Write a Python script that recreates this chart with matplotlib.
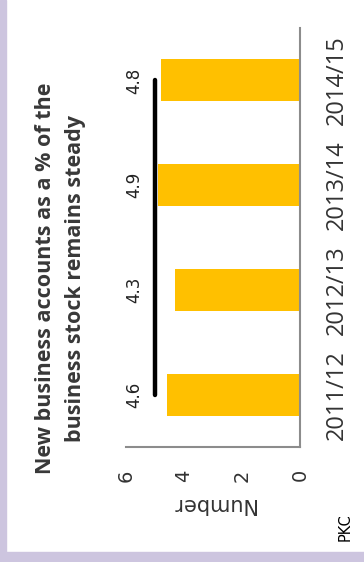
import matplotlib
matplotlib.use('Agg')
import matplotlib.pyplot as plt
from matplotlib.patches import Rectangle

# new business accounts as % of business stock
years = ['2011/12', '2012/13', '2013/14', '2014/15']
pct_values = [4.6, 4.3, 4.9, 4.8]
steady_level = [5.0, 5.0, 5.0, 5.0]
label_level = 5.7
value_ticks = [0, 2, 4, 6]

title_lines = ['New business accounts as a % of the',
               'business stock remains steady']

W, H = 364, 562
fig = plt.figure(figsize=(W / 100, H / 100), dpi=100)
fig.patch.set_facecolor('white')

# lavender frame on the left and bottom edges
frame_col = '#cdc5df'
fig.patches.append(Rectangle((0, 0), 6 / W, 1, transform=fig.transFigure,
                             color=frame_col, zorder=0))
fig.patches.append(Rectangle((0, 0), 1, 10 / H, transform=fig.transFigure,
                             color=frame_col, zorder=0))

# chart is laid out turned on its side: bars run leftwards from zero
ax = fig.add_axes([126 / W, (H - 447) / H, 174 / W, 419 / H])
pos = list(range(len(years)))
ax.barh(pos, pct_values, height=0.4, color='#ffc000', zorder=2)
ax.plot(steady_level, pos, color='black', lw=3.2, solid_capstyle='round',
        zorder=3)
for p, v in zip(pos, pct_values):
    ax.text(label_level, p, f'{v:.1f}', rotation=90, ha='center', va='center',
            fontsize=12, color='#222222', family='DejaVu Sans')

ax.set_xlim(6, 0)
ax.set_ylim(-0.5, len(years) - 0.5)
ax.set_xticks(value_ticks)
ax.set_xticklabels([str(t) for t in value_ticks], rotation=90, fontsize=14,
                   color='#333333', family='DejaVu Sans')
ax.set_yticks(pos)
ax.set_yticklabels(years, rotation=90, fontsize=17, color='#333333',
                   family='Open Sans', va='center')
ax.yaxis.tick_right()
ax.tick_params(axis='x', length=0, pad=16)
ax.tick_params(axis='y', length=0, pad=18)
ax.set_xlabel('Number', rotation=180, fontsize=15, color='#333333',
              family='DejaVu Sans', labelpad=9)

for side in ['top', 'left']:
    ax.spines[side].set_visible(False)
for side in ['right', 'bottom']:
    ax.spines[side].set_color('#8c8c8c')
    ax.spines[side].set_linewidth(1.5)

fig.text(46 / W, 1 - 278 / H, title_lines[0], rotation=90, ha='center',
         va='center', fontsize=15.5, fontweight='bold', color='#383838',
         family='Open Sans')
fig.text(76 / W, 1 - 278 / H, title_lines[1], rotation=90, ha='center',
         va='center', fontsize=15.5, fontweight='bold', color='#383838',
         family='Open Sans')
fig.text(345 / W, 1 - 527 / H, 'PKC', rotation=90, ha='center', va='center',
         fontsize=10.5, color='black', family='DejaVu Sans')

fig.savefig('out.png', dpi=100)
